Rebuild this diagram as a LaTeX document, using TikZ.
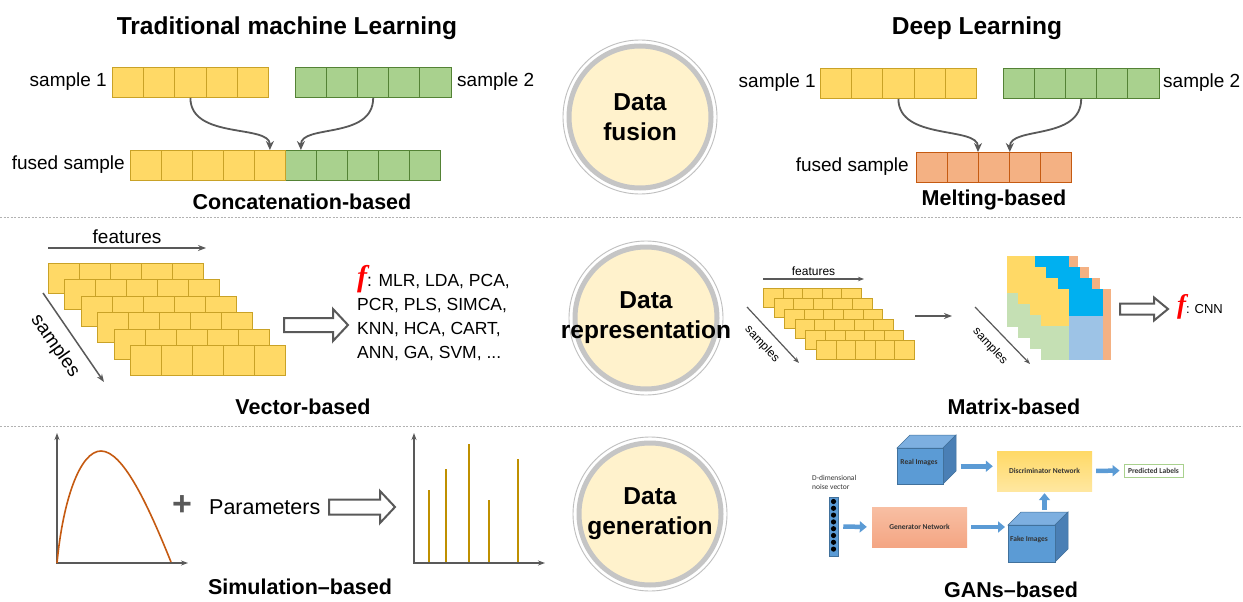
\documentclass[tikz,border=0pt]{standalone}
\usepackage{fontspec}
\setmainfont{Liberation Sans}
\newfontfamily\fserif{Liberation Serif}
\newfontfamily\fcal{Carlito}
\usetikzlibrary{arrows.meta,calc}
\definecolor{cyel}{HTML}{FFD966}
\definecolor{cyelb}{HTML}{C9A227}
\definecolor{cgrn}{HTML}{A9D18E}
\definecolor{cgrnb}{HTML}{548235}
\definecolor{corg}{HTML}{F4B183}
\definecolor{corgb}{HTML}{C55A11}
\definecolor{cdark}{HTML}{595959}
\definecolor{ccream}{HTML}{FFF2CC}
\definecolor{cring}{HTML}{BFBFBF}
\definecolor{ccyan}{HTML}{00B0F0}
\definecolor{clblue}{HTML}{9DC3E6}
\definecolor{clgrn}{HTML}{C5E0B4}
\definecolor{cblue}{HTML}{5B9BD5}
\definecolor{cbluetop}{HTML}{7DAFE0}
\definecolor{cblueside}{HTML}{4A7FB5}
\definecolor{cblued}{HTML}{41719C}
\definecolor{cgold}{HTML}{BF9000}
\definecolor{ccurve}{HTML}{C55A11}
\definecolor{cdisc1}{HTML}{FFD966}
\definecolor{cdisc2}{HTML}{FFE7A0}
\definecolor{cgen1}{HTML}{F8BFA3}
\definecolor{cgen2}{HTML}{F4A583}
\definecolor{cpred}{HTML}{A9D18E}
\definecolor{ctxtg}{HTML}{333333}
\newcommand\hollowarr[6]{%
  \draw[hollow] ({#1},{#4-#5}) -- ({#2},{#4-#5}) -- ({#2},{#4-#6}) -- ({#3},{#4}) -- ({#2},{#4+#6}) -- ({#2},{#4+#5}) -- ({#1},{#4+#5}) -- cycle;}
\newcommand\gcube[6]{%
  \filldraw[fill=cbluetop, draw=cblued, line width=0.5] (#2,#3) -- ++(#6,-#6) -- ++(#4,0) -- ++(-#6,#6) -- cycle;
  \filldraw[fill=cblueside, draw=cblued, line width=0.5] ({#2+#4},#3) -- ++(#6,-#6) -- ++(0,#5) -- ++(-#6,#6) -- cycle;
  \node[draw=cblued, fill=cblue, line width=0.5, minimum width=#4, minimum height=#5, anchor=north west, inner sep=0] (#1) at (#2,#3) {};}
\begin{document}
\begin{tikzpicture}[x=1pt,y=-1pt,
  lbl/.style={inner sep=0, font=\fontsize{19}{23}\selectfont},
  ttl/.style={inner sep=0, font=\fontsize{24.5}{29}\selectfont\bfseries},
  sub/.style={inner sep=0, font=\fontsize{21.5}{26}\selectfont\bfseries},
  ctxt/.style={inner sep=0, align=center, font=\fontsize{24.5}{30}\selectfont\bfseries},
  ftxt/.style={inner sep=0, anchor=base west, font=\fontsize{17.5}{21}\selectfont},
  ycell/.style={draw=cyelb, fill=cyel, line width=0.8, anchor=north west, inner sep=0, minimum width=31.2, minimum height=30},
  gcell/.style={ycell, draw=cgrnb, fill=cgrn},
  ocell/.style={ycell, draw=corgb, fill=corg},
  scell/.style={ycell, minimum width=19.6, minimum height=19, line width=0.6},
  curvarr/.style={draw=cdark, line width=1.8, -{Stealth[length=9pt,width=8pt]}},
  garrow/.style={draw=cdark, line width=1.5, -{Stealth[length=8pt,width=6pt]}},
  sep/.style={draw=gray!60, line width=0.8, dash pattern=on 2pt off 1.5pt},
  ringout/.style={circle, inner sep=0, minimum size=154, draw=cring, line width=0.9},
  ringin/.style={circle, inner sep=0, minimum size=142, draw=cring!90, fill=ccream, line width=5},
  hollow/.style={draw=cdark, line width=2, fill=white, line join=miter},
  axisline/.style={draw=cdark, line width=1.6},
  barrow/.style={draw=cblue, line width=4.5, -{Triangle[length=7pt,width=11pt]}},
  gtxt/.style={inner sep=0, font=\fcal\bfseries\fontsize{7.5}{9}\selectfont, text=ctxtg},
  gbox/.style={inner sep=0, minimum width=95, minimum height=40, font=\fcal\bfseries\fontsize{7.5}{9}\selectfont, text=ctxtg},
]
\fill[white] (0,0) rectangle (1243,602);
\useasboundingbox (0,0) rectangle (1243,602);

% ---------- titles
\node[ttl] (t1) at (287,28) {Traditional machine Learning};
\node[ttl] (t2) at (977,28) {Deep Learning};

% ---------- top left: concatenation
\foreach \i in {0,...,4} {
  \node[ycell] (a\i) at ({112+31.2*\i},67) {};
  \node[gcell] (b\i) at ({295+31.1*\i},67) {};
  \node[ycell, minimum width=31] (fa\i) at ({130+31*\i},150) {};
  \node[gcell, minimum width=31] (fb\i) at ({285+31*\i},150) {};
}
\node[lbl, anchor=east] (ls1) at (107,82) {sample 1};
\node[lbl, anchor=west] (ls2) at (457,82) {sample 2};
\node[lbl, anchor=east] (lf1) at (125,165) {fused sample};
\draw[curvarr] (a2.south) .. controls +(0,42) and +(0,-26) .. (fa4.north);
\draw[curvarr] (b2.south) .. controls +(0,42) and +(0,-26) .. (fb0.north);
\node[sub] (lconc) at (302,202) {Concatenation-based};

% ---------- top right: melting
\foreach \i in {0,...,4} {
  \node[ycell] (c\i) at ({820+31.2*\i},68) {};
  \node[gcell] (d\i) at ({1003+31.1*\i},68) {};
  \node[ocell, minimum width=31] (m\i) at ({916+31*\i},152) {};
}
\node[lbl, anchor=east] (ls3) at (816,83) {sample 1};
\node[lbl, anchor=west] (ls4) at (1163,83) {sample 2};
\node[lbl, anchor=east] (lf2) at (909,167) {fused sample};
\draw[curvarr] (c2.south) .. controls +(0,42) and +(0,-26) .. (m2.north west);
\draw[curvarr] (d2.south) .. controls +(0,42) and +(0,-26) .. (m2.north east);
\node[sub] (lmelt) at (994,200) {Melting-based};

% ---------- separators
\coordinate (sp1l) at (0,217); \coordinate (sp1r) at (1243,217);
\coordinate (sp2l) at (0,426); \coordinate (sp2r) at (1243,426);
\draw[sep] (sp1l) -- (sp1r);
\draw[sep] (sp2l) -- (sp2r);

% ---------- circles
\node[ringout] (r1) at (640,117) {}; \node[ringin] (r1i) at (r1) {};
\node[ctxt] (r1t) at (r1) {Data\\fusion};
\node[ringout] (r2) at (646,318) {}; \node[ringin] (r2i) at (r2) {};
\node[ctxt] (r2t) at (r2) {Data\\representation};
\node[ringout] (r3) at (650,514) {}; \node[ringin] (r3i) at (r3) {};
\node[ctxt] (r3t) at (r3) {Data\\generation};

% ---------- middle left: vector-based
\coordinate (f1s) at (48,248); \coordinate (f1e) at (206,248);
\draw[garrow] (f1s) -- (f1e) node[midway, above=4pt, lbl] (lfeat1) {features};
\foreach \r in {0,...,5} \foreach \i in {0,...,4}
  \node[ycell, minimum width=31] (v\r\i) at ({48+16.4*\r+31*\i},{263+16.4*\r}) {};
\coordinate (sa1) at (43,293); \coordinate (sa2) at (104,382);
\draw[garrow] (sa1) -- (sa2);
\node[lbl, rotate=-55] (lsamp1) at (55,346) {samples};
\hollowarr{284}{333}{348}{325}{7}{16}
\node[ftxt] (fm1) at (357,286) {\textcolor{red}{\fontsize{30}{30}\fserif\bfseries\itshape f}: MLR, LDA, PCA,};
\node[ftxt] (fm2) at (357,310) {PCR, PLS, SIMCA,};
\node[ftxt] (fm3) at (357,334) {KNN, HCA, CART,};
\node[ftxt] (fm4) at (357,358) {ANN, GA, SVM, ...};
\node[sub] (lvec) at (303,407) {Vector-based};

% ---------- middle right: matrix-based
\coordinate (f2s) at (763,279); \coordinate (f2e) at (864,279);
\draw[garrow, line width=1.2, -{Stealth[length=6pt,width=4.5pt]}] (f2s) -- (f2e) node[midway, above=3pt, inner sep=0, font=\fontsize{12}{14}\selectfont] (lfeat2) {features};
\foreach \r in {0,...,5} \foreach \i in {0,...,4}
  \node[scell] (w\r\i) at ({763+10.6*\r+19.6*\i},{288+10.4*\r}) {};
\coordinate (sb1) at (747,307); \coordinate (sb2) at (799,363);
\draw[garrow, line width=1.2, -{Stealth[length=6pt,width=4.5pt]}] (sb1) -- (sb2);
\node[inner sep=0, rotate=-47, font=\fontsize{12}{14}\selectfont] (lsamp2) at (762,344) {samples};
\coordinate (da1) at (915,316); \coordinate (da2) at (952,316);
\draw[garrow, line width=2] (da1) -- (da2);
\coordinate (sc1) at (975,307); \coordinate (sc2) at (1030,364);
\draw[garrow, line width=1.2, -{Stealth[length=6pt,width=4.5pt]}] (sc1) -- (sc2);
\node[inner sep=0, rotate=-47, font=\fontsize{12}{14}\selectfont] (lsamp3) at (990,346) {samples};
\foreach \k in {0,...,3} {
  \pgfmathsetmacro\mx{1007+11.3*\k}
  \pgfmathsetmacro\my{256+11*\k}
  \fill[cyel] (\mx,\my) rectangle ++(28,37);
  \fill[clgrn] (\mx,\my+37) rectangle ++(28,34);
  \fill[ccyan] (\mx+28,\my) rectangle ++(34,27);
  \fill[clblue] (\mx+28,\my+27) rectangle ++(34,44);
  \fill[corg] (\mx+62,\my) rectangle ++(8.5,71);
}
\hollowarr{1120}{1154}{1168}{309}{5.5}{11.5}
\node[inner sep=0, anchor=base west, font=\fontsize{13}{15}\selectfont] (fcnn) at (1177,313) {\textcolor{red}{\fontsize{27}{27}\fserif\bfseries\itshape f}: CNN};
\node[sub] (lmat) at (1014,407) {Matrix-based};

% ---------- bottom left: simulation
\coordinate (o1) at (57,563); \coordinate (y1) at (57,433); \coordinate (x1) at (188,563);
\draw[axisline, {Stealth[length=7pt,width=5pt]}-{Stealth[length=7pt,width=5pt]}] (y1) -- (o1) -- (x1);
\draw[ccurve, line width=1.6] (o1) .. controls (63,500) and (80,451) .. (101,451) .. controls (123,451) and (148,505) .. (171,562);
\node[inner sep=0, font=\fontsize{34}{34}\selectfont\bfseries, text=cdark] (plus) at (182,506) {+};
\node[inner sep=0, anchor=west, font=\fontsize{21.5}{26}\selectfont] (lpar) at (209,507) {Parameters};
\hollowarr{329}{380}{395}{507}{7.5}{16}
\coordinate (o2) at (414,563); \coordinate (y2) at (414,433); \coordinate (x2) at (545,563);
\draw[axisline, {Stealth[length=7pt,width=5pt]}-{Stealth[length=7pt,width=5pt]}] (y2) -- (o2) -- (x2);
\foreach \x/\t in {429/490,446/469,469/444,489/500,518/459}
  \draw[cgold, line width=2.6] (\x,562) -- (\x,\t);
\node[sub] (lsim) at (300,587) {Simulation–based};

% ---------- bottom right: GANs
\gcube{real}{897}{448}{46}{36}{13}
\node[gtxt] (lreal) at (919,463) {Real Images};
\gcube{fake}{1008}{525}{47}{37}{13}
\node[gtxt] (lfake) at (1029,539) {Fake Images};
\node[gbox, top color=cdisc1, bottom color=cdisc2] (disc) at (1044.5,471) {Discriminator Network};
\node[gbox, top color=cgen1, bottom color=cgen2] (gen) at (919.5,527) {Generator Network};
\node[gtxt, draw=cpred, line width=0.8, fill=white, minimum width=59, minimum height=13] (pred) at (1153.5,470.5) {Predicted Labels};
\node[draw=cblued, fill=cblue, line width=0.5, inner sep=0, minimum width=9, minimum height=59] (noise) at (833.5,526.5) {};
\foreach \j in {0,...,7} \fill[black] (833.5,{501.5+6.8*\j}) circle[radius=2.6];
\node[inner sep=0, anchor=north west, align=left, font=\fcal\fontsize{7.5}{9.5}\selectfont, text=ctxtg] (lnoise) at (812,475) {D-dimensional\\noise vector};
\draw[barrow, shorten <=17pt, shorten >=4pt] (real.east) -- (real.east -| disc.west);
\draw[barrow, shorten <=4pt, shorten >=4pt] (disc.east) -- (pred.west);
\draw[barrow, shorten <=5pt, shorten >=5pt] (noise.east) -- (gen.west);
\draw[barrow, shorten <=4pt, shorten >=3pt] (gen.east) -- (gen.east -| fake.west);
\draw[barrow, shorten <=15pt, shorten >=2pt] (fake.north -| disc.south) -- (disc.south);
\node[sub] (lgan) at (1011,590) {GANs–based};
\end{tikzpicture}
\end{document}
